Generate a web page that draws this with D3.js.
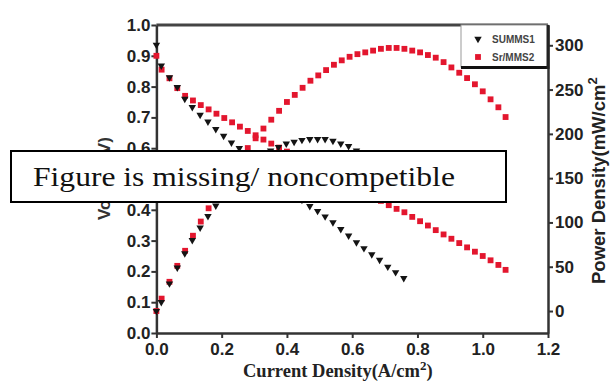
<!DOCTYPE html>
<html>
<head>
<meta charset="utf-8">
<script src="https://cdn.jsdelivr.net/npm/d3@7"></script>
<style>
  body { margin: 0; background: #fff; }
  svg { display: block; }
  .tick text { font-family: "Liberation Sans", Arial, sans-serif; font-weight: bold; font-size: 17px; fill: #222; }
  .tick line { stroke: #333; stroke-width: 2; }
  .domain { stroke: #333; stroke-width: 2.5; }
</style>
</head>
<body>
<svg id="chart" width="610" height="381"></svg>
<script>
// ------------ DATA -----------------

const seriesNames = ["SUMMS1", "Sr/MMS2"];

// SUMMS1 (black triangles)
const currentS1 = [0, 0.015, 0.04, 0.064, 0.087, 0.11, 0.134, 0.158, 0.182, 0.206, 0.23, 0.254, 0.278, 0.302, 0.326, 0.35, 0.374, 0.398, 0.422, 0.446, 0.47, 0.494, 0.517, 0.541, 0.565, 0.589, 0.613, 0.636, 0.66, 0.684, 0.709, 0.733, 0.758];
const voltageS1 = [0.935, 0.868, 0.83, 0.798, 0.76, 0.733, 0.708, 0.686, 0.662, 0.64, 0.618, 0.6, 0.58, 0.56, 0.538, 0.516, 0.495, 0.474, 0.453, 0.432, 0.412, 0.396, 0.378, 0.359, 0.337, 0.316, 0.294, 0.275, 0.255, 0.237, 0.215, 0.197, 0.178];
const powerS1 = [0, 10, 31, 49, 65, 80, 94, 107, 119, 131, 141, 151, 160, 168, 175, 181, 185, 189, 191, 193, 194, 194, 194, 192, 189, 186, 181, 175, 168, 162, 152, 144, 135];

// Sr/MMS2 (red squares)
const currentS2 = [0, 0.016, 0.04, 0.064, 0.088, 0.112, 0.136, 0.16, 0.184, 0.208, 0.232, 0.256, 0.28, 0.304, 0.328, 0.352, 0.376, 0.4, 0.424, 0.448, 0.472, 0.496, 0.52, 0.544, 0.568, 0.592, 0.616, 0.64, 0.664, 0.688, 0.712, 0.736, 0.76, 0.784, 0.808, 0.832, 0.856, 0.88, 0.904, 0.928, 0.952, 0.976, 1.0, 1.024, 1.048, 1.07];
const voltageS2 = [0.90, 0.855, 0.827, 0.795, 0.77, 0.755, 0.740, 0.726, 0.712, 0.698, 0.684, 0.670, 0.656, 0.642, 0.628, 0.615, 0.602, 0.589, 0.576, 0.563, 0.550, 0.537, 0.524, 0.511, 0.498, 0.485, 0.471, 0.457, 0.443, 0.429, 0.415, 0.403, 0.392, 0.377, 0.363, 0.349, 0.334, 0.320, 0.306, 0.292, 0.278, 0.264, 0.250, 0.236, 0.221, 0.205];
const powerS2 = [0, 14, 33, 51, 68, 85, 101, 116, 131, 145, 159, 172, 184, 195, 206, 216, 226, 236, 244, 252, 260, 266, 272, 278, 283, 287, 290, 292, 294, 296, 297, 297, 296, 294, 292, 289, 286, 281, 275, 269, 263, 256, 248, 239, 230, 219];

const xTicks = [0, 0.2, 0.4, 0.6, 0.8, 1.0, 1.2];
const yLeftTicks = [0, 0.1, 0.2, 0.3, 0.4, 0.5, 0.6, 0.7, 0.8, 0.9, 1.0];
const yRightTicks = [0, 50, 100, 150, 200, 250, 300];

// ------------ SETUP -----------------

const svg = d3.select("#chart");
const plot = { left: 156.4, right: 548, top: 25, bottom: 333 };

const x = d3.scaleLinear().domain([0, 1.2]).range([plot.left, plot.right]);
const yL = d3.scaleLinear().domain([0, 1]).range([plot.bottom, plot.top]);
const yR = d3.scaleLinear().domain([-24.8, 322.9]).range([plot.bottom, plot.top]);

const red = "#e3162e";
const black = "#141414";

// frame top
svg.append("line")
  .attr("x1", plot.left).attr("x2", plot.right)
  .attr("y1", plot.top).attr("y2", plot.top)
  .attr("stroke", "#444").attr("stroke-width", 3);

svg.append("g")
  .attr("transform", `translate(0,${plot.bottom})`)
  .call(d3.axisBottom(x).tickValues(xTicks).tickFormat(d3.format(".1f")).tickSize(5).tickPadding(5).tickSizeOuter(0));

svg.append("g")
  .attr("transform", `translate(${plot.left},0)`)
  .call(d3.axisLeft(yL).tickValues(yLeftTicks).tickFormat(d3.format(".1f")).tickSize(5).tickPadding(1).tickSizeOuter(0));

svg.append("g")
  .attr("transform", `translate(${plot.right},0)`)
  .call(d3.axisRight(yR).tickValues(yRightTicks).tickSize(5).tickPadding(2).tickSizeOuter(0));

// ------------ POINTS -----------------

const squareSym = d3.symbol().type(d3.symbolSquare).size(34);
const triSym = d3.symbol().type(d3.symbolTriangle).size(24);

function drawSquares(xs, ys, scaleY) {
  svg.append("g").selectAll("path")
    .data(xs.map((d, i) => [d, ys[i]]))
    .join("path")
    .attr("d", squareSym)
    .attr("fill", red)
    .attr("transform", d => `translate(${x(d[0])},${scaleY(d[1])})`);
}

function drawTriangles(xs, ys, scaleY) {
  svg.append("g").selectAll("path")
    .data(xs.map((d, i) => [d, ys[i]]))
    .join("path")
    .attr("d", triSym)
    .attr("fill", black)
    .attr("transform", d => `translate(${x(d[0])},${scaleY(d[1])}) rotate(180)`);
}

drawSquares(currentS2, voltageS2, yL);
drawSquares(currentS2, powerS2, yR);
drawTriangles(currentS1, voltageS1, yL);
drawTriangles(currentS1, powerS1, yR);

// ------------ LEGEND -----------------

const lg = svg.append("g");
lg.append("rect")
  .attr("x", 461).attr("y", plot.top).attr("width", plot.right - 461).attr("height", 42)
  .attr("fill", "#fff").attr("stroke", "#999").attr("stroke-width", 1);
lg.append("line")
  .attr("x1", 461).attr("x2", plot.right).attr("y1", 67.5).attr("y2", 67.5)
  .attr("stroke", "#111").attr("stroke-width", 3);
lg.append("line")
  .attr("x1", plot.right).attr("x2", plot.right).attr("y1", plot.top).attr("y2", 69)
  .attr("stroke", "#222").attr("stroke-width", 3);

lg.append("path").attr("d", triSym).attr("fill", black)
  .attr("transform", "translate(478,39) rotate(180)");
lg.append("path").attr("d", squareSym).attr("fill", red)
  .attr("transform", "translate(478,57)");

lg.selectAll("text.lab")
  .data(seriesNames)
  .join("text")
  .attr("class", "lab")
  .attr("x", 492)
  .attr("y", (d, i) => 43 + i * 18)
  .attr("font-family", "Liberation Sans, Arial, sans-serif")
  .attr("font-weight", "bold")
  .attr("font-size", 10)
  .attr("fill", "#444")
  .text(d => d);

// ------------ AXIS TITLES -----------------

const xTitle = svg.append("text")
  .attr("x", 243).attr("y", 377)
  .attr("font-family", "Liberation Serif, Times New Roman, serif")
  .attr("font-weight", "bold")
  .attr("font-size", 18.5)
  .attr("fill", "#222");
xTitle.append("tspan").text("Current Density(A/cm");
xTitle.append("tspan").attr("dy", -7).attr("font-size", 13).text("2");
xTitle.append("tspan").attr("dy", 7).text(")");

svg.append("text")
  .attr("transform", "translate(110,220) rotate(-90)")
  .attr("font-family", "Liberation Sans, Arial, sans-serif")
  .attr("font-weight", "bold")
  .attr("font-size", 17)
  .attr("fill", "#333")
  .text("Voltage(V)");

const rTitle = svg.append("text")
  .attr("transform", "translate(605,284) rotate(-90)")
  .attr("font-family", "Liberation Sans, Arial, sans-serif")
  .attr("font-weight", "bold")
  .attr("font-size", 18.5)
  .attr("fill", "#222");
rTitle.append("tspan").text("Power Density(mW/cm");
rTitle.append("tspan").attr("dy", -8).attr("font-size", 13).text("2");

// ------------ OVERLAY NOTICE -----------------

svg.append("rect")
  .attr("x", 11).attr("y", 151).attr("width", 495).attr("height", 51)
  .attr("fill", "#fff").attr("stroke", "#000").attr("stroke-width", 2);
svg.append("text")
  .attr("transform", "translate(33,186) scale(1.17,1)")
  .attr("font-family", "Liberation Serif, Times New Roman, serif")
  .attr("font-size", 27)
  .attr("fill", "#111")
  .text("Figure is missing/ noncompetible");
</script>
</body>
</html>
